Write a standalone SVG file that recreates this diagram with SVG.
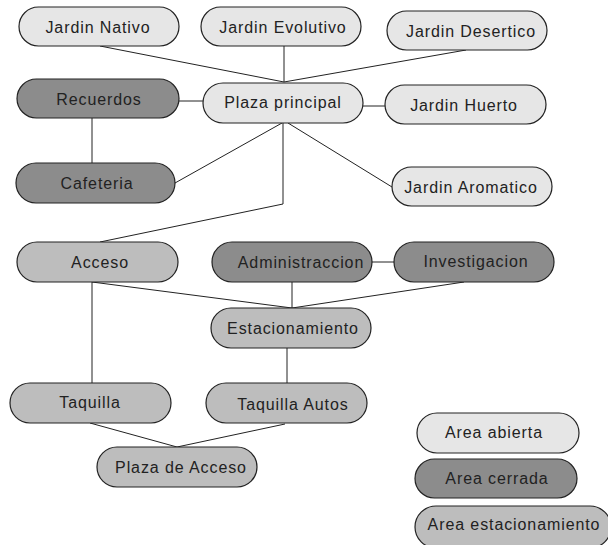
<svg xmlns="http://www.w3.org/2000/svg" width="608" height="545" viewBox="0 0 608 545">
  <style>
    .node rect { stroke: #222; stroke-width: 1.2; }
    .open rect { fill: #e6e6e6; }
    .closed rect { fill: #8c8c8c; }
    .parking rect { fill: #bdbdbd; }
    .node text { font-family: "Liberation Sans", Arial, sans-serif; font-size: 16px; letter-spacing: 0.9px; fill: #222; text-anchor: middle; }
    #connectors line, #connectors polyline { stroke: #222; stroke-width: 1; fill: none; }
  </style>
  <rect width="608" height="545" fill="#ffffff"/>

  <g id="connectors">
    <line x1="100" y1="46" x2="284" y2="82"/>
    <line x1="284" y1="46" x2="284" y2="82"/>
    <line x1="466" y1="50" x2="284" y2="82"/>
    <line x1="179" y1="101" x2="203" y2="101"/>
    <line x1="363" y1="106" x2="385" y2="106"/>
    <line x1="92" y1="118" x2="92" y2="163"/>
    <line x1="282" y1="123" x2="175" y2="183"/>
    <line x1="288" y1="123" x2="392" y2="187"/>
    <polyline points="283,123 283,204 100,242"/>
    <line x1="372" y1="262" x2="394" y2="262"/>
    <line x1="92" y1="282" x2="292" y2="308"/>
    <line x1="292" y1="282" x2="292" y2="308"/>
    <line x1="464" y1="282" x2="292" y2="308"/>
    <line x1="92" y1="282" x2="92" y2="383"/>
    <line x1="287" y1="348" x2="287" y2="383"/>
    <line x1="90" y1="423" x2="177" y2="447"/>
    <line x1="285" y1="424" x2="177" y2="447"/>
  </g>

  <g id="jardin-nativo" class="node open">
    <rect x="19" y="7" width="160" height="39" rx="19.5"/>
    <text x="98" y="33">Jardin Nativo</text>
  </g>
  <g id="jardin-evolutivo" class="node open">
    <rect x="201" y="7" width="160" height="39" rx="19.5"/>
    <text x="283" y="33">Jardin Evolutivo</text>
  </g>
  <g id="jardin-desertico" class="node open">
    <rect x="387" y="11" width="160" height="39" rx="19.5"/>
    <text x="471" y="37">Jardin Desertico</text>
  </g>
  <g id="recuerdos" class="node closed">
    <rect x="17" y="79" width="162" height="39" rx="19.5"/>
    <text x="99" y="105">Recuerdos</text>
  </g>
  <g id="plaza-principal" class="node open">
    <rect x="203" y="83" width="160" height="40" rx="20"/>
    <text x="283" y="108">Plaza principal</text>
  </g>
  <g id="jardin-huerto" class="node open">
    <rect x="385" y="85" width="161" height="39" rx="19.5"/>
    <text x="464" y="111">Jardin Huerto</text>
  </g>
  <g id="cafeteria" class="node closed">
    <rect x="16" y="163" width="159" height="40" rx="20"/>
    <text x="97" y="189">Cafeteria</text>
  </g>
  <g id="jardin-aromatico" class="node open">
    <rect x="392" y="167" width="160" height="39" rx="19.5"/>
    <text x="471" y="193">Jardin Aromatico</text>
  </g>
  <g id="acceso" class="node parking">
    <rect x="17" y="242" width="161" height="40" rx="20"/>
    <text x="100" y="268">Acceso</text>
  </g>
  <g id="administraccion" class="node closed">
    <rect x="212" y="242" width="160" height="40" rx="20"/>
    <text x="301" y="268">Administraccion</text>
  </g>
  <g id="investigacion" class="node closed">
    <rect x="394" y="242" width="160" height="40" rx="20"/>
    <text x="476" y="267">Investigacion</text>
  </g>
  <g id="estacionamiento" class="node parking">
    <rect x="211" y="308" width="160" height="40" rx="20"/>
    <text x="293" y="334">Estacionamiento</text>
  </g>
  <g id="taquilla" class="node parking">
    <rect x="10" y="383" width="161" height="40" rx="20"/>
    <text x="90" y="408">Taquilla</text>
  </g>
  <g id="taquilla-autos" class="node parking">
    <rect x="206" y="383" width="161" height="40" rx="20"/>
    <text x="293" y="410">Taquilla Autos</text>
  </g>
  <g id="plaza-de-acceso" class="node parking">
    <rect x="97" y="447" width="160" height="40" rx="20"/>
    <text x="181" y="473">Plaza de Acceso</text>
  </g>

  <g id="legend-abierta" class="node open">
    <rect x="417" y="413" width="162" height="40" rx="20"/>
    <text x="494" y="438">Area abierta</text>
  </g>
  <g id="legend-cerrada" class="node closed">
    <rect x="415" y="459" width="162" height="39" rx="19.5"/>
    <text x="497" y="484">Area cerrada</text>
  </g>
  <g id="legend-estacionamiento" class="node parking">
    <rect x="415" y="506" width="196" height="42" rx="21"/>
    <text x="514" y="530">Area estacionamiento</text>
  </g>
</svg>
